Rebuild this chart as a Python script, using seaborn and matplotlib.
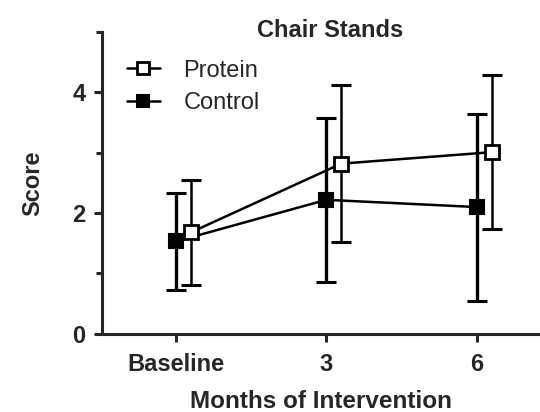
import numpy as np
import pandas as pd
import matplotlib
matplotlib.use("Agg")
import matplotlib.pyplot as plt
import seaborn as sns
from matplotlib.ticker import MultipleLocator

timepoints = ["Baseline", "3", "6"]
protein_mean = [1.68, 2.82, 3.01]
protein_sd = [0.87, 1.30, 1.28]
control_mean = [1.53, 2.22, 2.10]
control_sd = [0.80, 1.36, 1.55]

sns.set_style("ticks")
plt.rcParams["font.family"] = ["Liberation Sans", "DejaVu Sans"]

fig = plt.figure(figsize=(5.4, 4.12), dpi=100)
ax = fig.add_axes([0.189, 0.19, 0.811, 0.732])

pos = np.arange(len(timepoints), dtype=float)
df = pd.DataFrame({
    "x": np.concatenate([pos, pos + 0.1]),
    "score": control_mean + protein_mean,
    "group": ["Control"] * 3 + ["Protein"] * 3,
})

# error bars (mean ± SD)
ax.errorbar(pos, control_mean, yerr=control_sd, fmt="none", ecolor="black",
            elinewidth=2.4, capsize=7.5, capthick=2.2, zorder=2)
ax.errorbar(pos + 0.1, protein_mean, yerr=protein_sd, fmt="none", ecolor="black",
            elinewidth=1.8, capsize=7.5, capthick=2.2, zorder=2)

sns.lineplot(data=df[df.group == "Control"], x="x", y="score", ax=ax,
             color="black", linewidth=1.8, marker="s", markersize=10,
             markerfacecolor="black", markeredgecolor="black",
             markeredgewidth=1.5, label="Control", zorder=3)
sns.lineplot(data=df[df.group == "Protein"], x="x", y="score", ax=ax,
             color="black", linewidth=1.8, marker="s", markersize=10,
             markerfacecolor="white", markeredgecolor="black",
             markeredgewidth=2.0, label="Protein", zorder=4)

ax.set_xlim(-0.49, 2.42)
ax.set_ylim(0, 5)
ax.set_xticks(pos)
ax.set_xticklabels(timepoints)
ax.set_yticks([0, 2, 4])
ax.yaxis.set_minor_locator(MultipleLocator(1))
ax.tick_params(axis="both", which="major", length=6, width=2.2, labelsize=17,
               direction="out", pad=6)
ax.tick_params(axis="x", which="major", pad=8)
ax.tick_params(axis="y", which="minor", length=4, width=2.2)
for lab in ax.get_xticklabels() + ax.get_yticklabels():
    lab.set_fontweight("bold")
for s in ["left", "bottom"]:
    ax.spines[s].set_linewidth(2.2)
sns.despine(ax=ax)

ax.set_title("Chair Stands", fontsize=17, fontweight="bold", pad=0, x=0.52, y=0.985)
ax.set_xlabel("Months of Intervention", fontsize=17.5, fontweight="bold", labelpad=10)
ax.set_ylabel("Score", fontsize=17, fontweight="bold", labelpad=20)

handles, labels = ax.get_legend_handles_labels()
order = [labels.index("Protein"), labels.index("Control")]
ax.legend([handles[i] for i in order], [labels[i] for i in order],
          loc="upper left", bbox_to_anchor=(0.035, 0.94), frameon=False,
          handlelength=1.4, handletextpad=1.0, labelspacing=0.45,
          markerscale=0.85, borderaxespad=0,
          prop={"weight": "normal", "size": 17})

fig.savefig("out.png", dpi=100)
